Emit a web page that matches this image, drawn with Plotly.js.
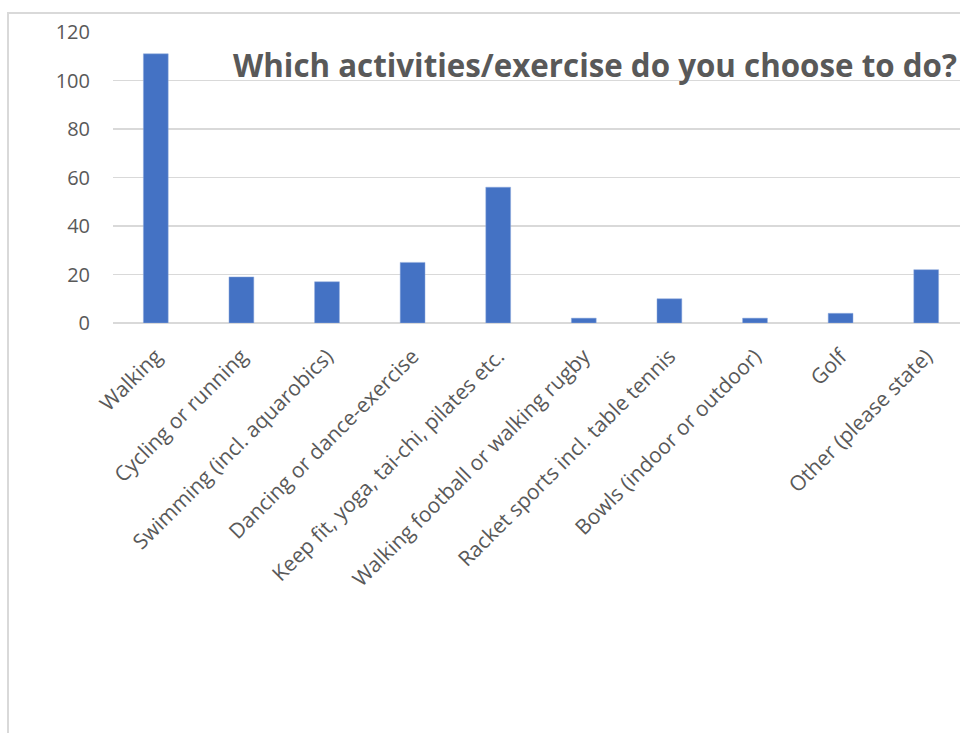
<!DOCTYPE html>
<html>
<head>
<meta charset="utf-8">
<script src="https://cdn.plot.ly/plotly-3.0.1.min.js"></script>
<style>
html,body{margin:0;padding:0;overflow:hidden;background:#fff;}
#chart{width:980px;height:733px;}
</style>
</head>
<body>
<div id="chart"></div>
<script>
const categories = [
  "Walking",
  "Cycling or running",
  "Swimming (incl. aquarobics)",
  "Dancing or dance-exercise",
  "Keep fit, yoga, tai-chi, pilates etc.",
  "Walking football or walking rugby",
  "Racket sports incl. table tennis",
  "Bowls (indoor or outdoor)",
  "Golf",
  "Other (please state)"
];
const counts = [111, 19, 17, 25, 56, 2, 10, 2, 4, 22];
const yTicks = [0, 20, 40, 60, 80, 100, 120];
const titleText = "Which activities/exercise do you choose to do?";

const W = 980, H = 733;
const mL = 113, mR = 11, mT = 32, mB = 410;
const pw = W - mL - mR, ph = H - mT - mB;
const px2x = p => (p - mL) / pw;
const px2y = p => (H - mB - p) / ph;

const trace = {
  type: 'bar',
  x: categories,
  y: counts,
  marker: {color: '#4472c4', line: {color: '#8faadc', width: 0.5}},
  hoverinfo: 'x+y'
};

const layout = {
  width: W, height: H,
  margin: {l: mL, r: mR, t: mT, b: mB, pad: 0},
  paper_bgcolor: '#ffffff',
  plot_bgcolor: '#ffffff',
  bargap: 0.71,
  showlegend: false,
  font: {family: 'Open Sans, sans-serif', color: '#595959', size: 20},
  xaxis: {
    type: 'category',
    tickangle: -45,
    showgrid: false,
    showline: false,
    zeroline: false,
    ticks: '',
    ticklabelstandoff: 16,
    tickfont: {size: 21, color: '#595959'},
    automargin: false
  },
  yaxis: {
    range: [0, 120],
    tickvals: yTicks,
    ticktext: yTicks.map(String),
    showgrid: true,
    gridcolor: '#d9d9d9',
    gridwidth: 1.5,
    zeroline: true,
    zerolinecolor: '#d9d9d9',
    zerolinewidth: 1.5,
    showline: false,
    ticks: '',
    ticklabelstandoff: 22,
    tickfont: {size: 20, color: '#595959'},
    automargin: false,
    fixedrange: true
  },
  annotations: [{
    text: '<b>' + titleText + '</b>',
    xref: 'paper', yref: 'paper',
    x: px2x(231), y: px2y(65),
    xanchor: 'left', yanchor: 'middle',
    showarrow: false,
    font: {family: 'Open Sans, sans-serif', size: 31.3, color: '#595959'}
  }],
  shapes: [{
    type: 'rect', xref: 'paper', yref: 'paper',
    x0: px2x(8), x1: px2x(2000), y0: px2y(2000), y1: px2y(13),
    line: {color: '#d9d9d9', width: 2}, fillcolor: 'rgba(0,0,0,0)',
    layer: 'below'
  }]
};

Plotly.newPlot('chart', [trace], layout, {displayModeBar: false, staticPlot: true});
</script>
</body>
</html>
